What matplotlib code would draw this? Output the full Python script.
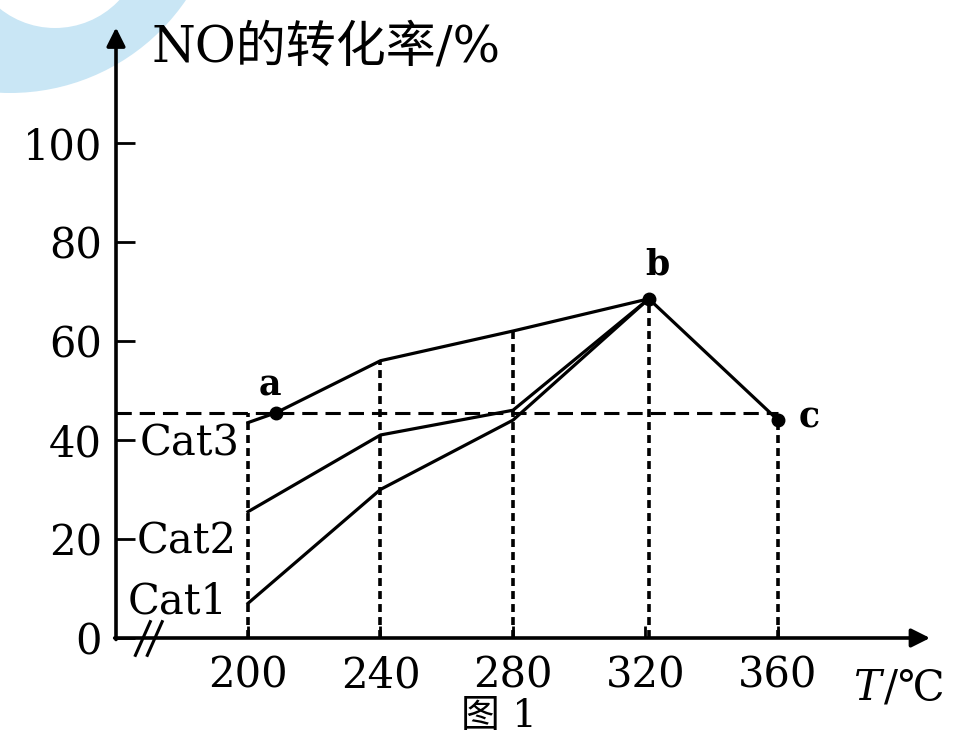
import matplotlib
matplotlib.use('Agg')
import matplotlib.pyplot as plt
from matplotlib.patches import Circle

# data
temps = [200, 240, 280, 320, 360]
y_ticks = [0, 20, 40, 60, 80, 100]

cat1_t = [200, 240, 280, 321]
cat1_v = [7, 30, 44, 68.5]
cat2_t = [200, 240, 280, 321]
cat2_v = [25.5, 41, 46, 68.5]
cat3_t = [200, 208.5, 240, 280, 321, 360]
cat3_v = [43.5, 45.5, 56, 62, 68.5, 44]

# labelled points a, b, c
pt_names = ['a', 'b', 'c']
pt_t = [208.5, 321, 360]
pt_v = [45.5, 68.5, 44]

# dotted drop lines (x, top)
drop_t = [200, 240, 280, 321, 360]
drop_v = [45.5, 56, 62, 68.5, 44]
ref_level = 45.5

serif = 'DejaVu Serif'
cjk = ['DejaVu Serif', 'Noto Sans CJK SC']

fig = plt.figure(figsize=(9.56, 7.41), dpi=100)
fig.patch.set_facecolor('white')

# decorative blue crescent in the top-left corner (pixel coords)
bg = fig.add_axes([0, 0, 1, 1], zorder=0)
bg.set_xlim(0, 956)
bg.set_ylim(741, 0)
bg.axis('off')
bg.add_patch(Circle((10, -120), 213, color='#c9e6f5', lw=0))
bg.add_patch(Circle((55, -60), 88, color='white', lw=0))

x0, x1 = 160.15, 407.4
ax = fig.add_axes([116 / 956, 103 / 741, 819 / 956, 613 / 741], zorder=1)
ax.set_facecolor('none')
ax.set_xlim(x0, x1)
ax.set_ylim(0, 123.8)
for s in ax.spines.values():
    s.set_visible(False)

# axes with arrows
arr = dict(arrowstyle='-|>', mutation_scale=28, lw=2.6, color='black', shrinkA=0, shrinkB=0)
ax.annotate('', xy=(x0, 123.3), xytext=(x0, -0.3), arrowprops=arr, annotation_clip=False)
ax.annotate('', xy=(405.9, 0), xytext=(x0 - 0.4, 0), arrowprops=arr, annotation_clip=False)

# axis break
for dx in (0, 3.6):
    ax.plot([166 + dx, 170.5 + dx], [-3.5, 3.3], color='black', lw=2.2, clip_on=False)

ax.set_xticks(temps)
ax.set_xticklabels([str(t) for t in temps])
ax.set_yticks(y_ticks)
ax.set_yticklabels([str(v) for v in y_ticks])
ax.tick_params(axis='y', direction='in', length=14, width=2, pad=10, labelsize=30)
ax.tick_params(axis='x', direction='in', length=9, width=2, pad=12, labelsize=30)
for lab in ax.get_xticklabels() + ax.get_yticklabels():
    lab.set_family(serif)

# reference lines
ax.plot([x0, 360], [ref_level, ref_level], color='black', lw=2.2, dashes=(5, 2.6))
for t, v in zip(drop_t, drop_v):
    ax.plot([t, t], [0, v], color='black', lw=2.6, dashes=(2.2, 1.4))

# catalyst curves
ax.plot(cat1_t, cat1_v, color='black', lw=2.3)
ax.plot(cat2_t, cat2_v, color='black', lw=2.3)
ax.plot(cat3_t, cat3_v, color='black', lw=2.3)
ax.plot(pt_t, pt_v, 'o', color='black', ms=9)

ax.text(206.5, 51, 'a', fontsize=25, fontweight='bold', family=serif, ha='center', va='center')
ax.text(323.5, 75.5, 'b', fontsize=25, fontweight='bold', family=serif, ha='center', va='center')
ax.text(369.5, 44.5, 'c', fontsize=25, fontweight='bold', family=serif, ha='center', va='center')

ax.text(167.4, 39.3, 'Cat3', fontsize=30, family=serif, va='center')
ax.text(166.5, 19.5, 'Cat2', fontsize=30, family=serif, va='center')
ax.text(163.8, 7.3, 'Cat1', fontsize=30, family=serif, va='center')

fig.text(152 / 956, 1 - 48 / 741, 'NO的转化率/%', fontsize=36, family=cjk, va='center')
fig.text(853 / 956, 1 - 688 / 741, 'T', fontsize=30, family=serif, style='italic', va='center')
fig.text(884 / 956, 1 - 688 / 741, '/℃', fontsize=30, family=cjk, va='center')
fig.text(499 / 956, 1 - 717 / 741, '图 1', fontsize=28, family=cjk, ha='center', va='center')

plt.savefig('out.png', dpi=100)
plt.close()
